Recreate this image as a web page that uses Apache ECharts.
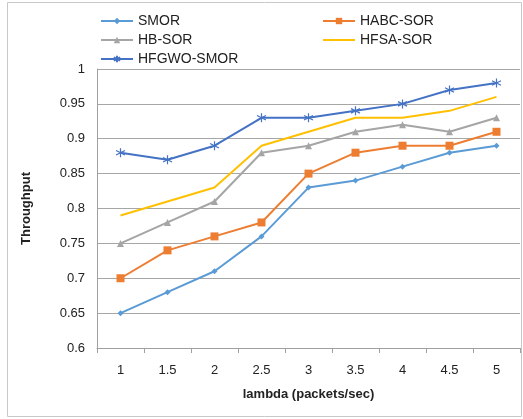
<!DOCTYPE html>
<html><head><meta charset="utf-8">
<script src="https://cdn.jsdelivr.net/npm/echarts@6/dist/echarts.min.js"></script>
<style>html,body{margin:0;padding:0;background:#fff}#c{width:523px;height:419px}</style>
</head><body><div id="c"></div>
<script>
const categories = ['1','1.5','2','2.5','3','3.5','4','4.5','5'];
const seriesNames = ['SMOR','HABC-SOR','HB-SOR','HFSA-SOR','HFGWO-SMOR'];
const smor  = [0.65,0.68,0.71,0.76,0.83,0.84,0.86,0.88,0.89];
const habc  = [0.70,0.74,0.76,0.78,0.85,0.88,0.89,0.89,0.91];
const hb    = [0.75,0.78,0.81,0.88,0.89,0.91,0.92,0.91,0.93];
const hfsa  = [0.79,0.81,0.83,0.89,0.91,0.93,0.93,0.94,0.96];
const hfgwo = [0.88,0.87,0.89,0.93,0.93,0.94,0.95,0.97,0.98];
const yTicks = {min:0.6, max:1, interval:0.05};

const values = [smor, habc, hb, hfsa, hfgwo];
const colors = ['#5B9BD5','#ED7D31','#A5A5A5','#FFC000','#4472C4'];
const star = 'path://M0,-10L0,10M-8.66,-5L8.66,5M-8.66,5L8.66,-5';
const symbols = ['diamond','rect','triangle','none', star];
const sizes = [6,8,7,0,9];
const legendPos = [[100,14],[322,14],[100,33],[322,33],[100,52]];
const font = 'Liberation Sans, Arial, sans-serif';

const chart = echarts.init(document.getElementById('c'));
chart.setOption({
  animation:false,
  graphic:[{type:'rect',shape:{x:7.5,y:2.5,width:514,height:414},style:{fill:'none',stroke:'#c8c8c8',lineWidth:1}}],
  legend: seriesNames.map((n,i)=>({
    data:[ i===3 ? {name:n, itemStyle:{opacity:0}} : n ],
    left:legendPos[i][0], top:legendPos[i][1], padding:0, itemWidth:32, itemHeight:8,
    itemGap:4, textStyle:{fontFamily:font,fontSize:14,color:'#222'}
  })),
  grid:{left:97, top:69, right:3, bottom:71},
  xAxis:{type:'category', data:categories, boundaryGap:true,
    name:'lambda (packets/sec)', nameLocation:'middle', nameGap:40,
    nameTextStyle:{fontFamily:font,fontSize:13,fontWeight:'bold',color:'#222'},
    axisLine:{lineStyle:{color:'#a0a0a0'}},
    axisTick:{show:true,alignWithLabel:false,length:5,lineStyle:{color:'#a0a0a0'}},
    axisLabel:{fontFamily:font,fontSize:13,color:'#222',margin:16}},
  yAxis:{type:'value', min:yTicks.min, max:yTicks.max, interval:yTicks.interval,
    name:'Throughput', nameLocation:'middle', nameGap:64, nameRotate:90,
    nameTextStyle:{fontFamily:font,fontSize:13,fontWeight:'bold',color:'#222'},
    axisLine:{show:true,lineStyle:{color:'#a0a0a0'}}, axisTick:{show:false},
    splitLine:{lineStyle:{color:'#a6a6a6',width:1}},
    axisLabel:{fontFamily:font,fontSize:13,color:'#222',margin:12,
      formatter:v=>String(+v.toFixed(2))}},
  series: seriesNames.map((n,i)=>({
    name:n, type:'line', data:values[i], symbol:symbols[i], symbolSize:sizes[i],
    showSymbol: symbols[i]!=='none',
    lineStyle:{color:colors[i],width:2}, itemStyle:{color:colors[i],borderColor:colors[i],borderWidth: i===4?1.2:0},
    z: 10-i
  }))
});
</script></body></html>
